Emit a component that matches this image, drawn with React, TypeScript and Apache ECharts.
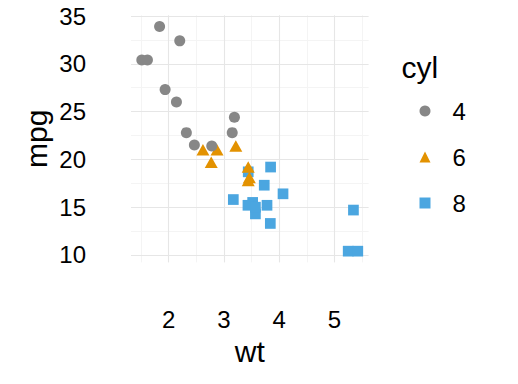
import React, { useEffect, useRef } from "react";
import * as echarts from "echarts";

// mtcars: weight (1000 lbs) and miles per gallon, grouped by number of cylinders
const wt4 = [2.32, 3.19, 3.15, 2.2, 1.615, 1.835, 2.465, 1.935, 2.14, 1.513, 2.78];
const mpg4 = [22.8, 24.4, 22.8, 32.4, 30.4, 33.9, 21.5, 27.3, 26.0, 30.4, 21.4];
const wt6 = [2.62, 2.875, 3.215, 3.46, 3.44, 3.44, 2.77];
const mpg6 = [21.0, 21.0, 21.4, 18.1, 19.2, 17.8, 19.7];
const wt8 = [3.44, 3.57, 4.07, 3.73, 3.78, 5.25, 5.424, 5.345, 3.52, 3.435, 3.84, 3.845, 3.17, 3.57];
const mpg8 = [18.7, 14.3, 16.4, 17.3, 15.2, 10.4, 10.4, 14.7, 15.5, 15.2, 13.3, 19.2, 15.8, 15.0];

const cylLevels = ["4", "6", "8"];
const xTicks = [2, 3, 4, 5];
const xMinor = [1.5, 2.5, 3.5, 4.5, 5.5];
const yTicks = [10, 15, 20, 25, 30, 35];
const yMinor = [12.5, 17.5, 22.5, 27.5, 32.5];

const FONT = "'Liberation Sans', Arial, Helvetica, sans-serif";
const COLORS = { "4": "#878787", "6": "#E39200", "8": "#4BA6E0" };

const allWt = [...wt4, ...wt6, ...wt8];
const allMpg = [...mpg4, ...mpg6, ...mpg8];
const expand = (arr: number[]) => {
  const lo = Math.min(...arr);
  const hi = Math.max(...arr);
  const pad = (hi - lo) * 0.05;
  return [lo - pad, hi + pad];
};
const [X_MIN, X_MAX] = expand(allWt);
const [Y_MIN, Y_MAX] = expand(allMpg);

const pairs = (xs: number[], ys: number[]) => xs.map((x, i) => [x, ys[i]]);

const MAJOR = { color: "#E6E6E6", width: 1.1, type: "solid" as const };
const MINOR = { color: "#F4F4F4", width: 1, type: "solid" as const };

export default function App() {
  const ref = useRef<HTMLDivElement>(null);
  useEffect(() => {
    if (!ref.current) return;
    const chart = echarts.init(ref.current, undefined, { renderer: "svg" });
    const gridLines = [
      ...xMinor.map((v) => ({ xAxis: v, lineStyle: MINOR })),
      ...yMinor.map((v) => ({ yAxis: v, lineStyle: MINOR })),
      ...xTicks.map((v) => ({ xAxis: v, lineStyle: MAJOR })),
      ...yTicks.map((v) => ({ yAxis: v, lineStyle: MAJOR })),
    ];
    chart.setOption({
      animation: false,
      backgroundColor: "#ffffff",
      textStyle: { fontFamily: FONT },
      grid: {
        left: 131,
        right: 149.4,
        top: 15.3,
        bottom: 121.6,
        containLabel: false,
        outerBoundsMode: "none",
      },
      title: {
        text: "cyl",
        left: 401.5,
        top: 52.6,
        padding: 0,
        textStyle: { fontSize: 30, fontWeight: "normal", color: "#000", fontFamily: FONT },
      },
      legend: {
        data: cylLevels,
        orient: "vertical",
        left: 419.5,
        top: 99,
        padding: 0,
        itemGap: 22,
        itemWidth: 11,
        itemHeight: 11,
        selectedMode: false,
        textStyle: { fontSize: 24, color: "#000", fontFamily: FONT, padding: [0, 0, 0, 17] },
      },
      xAxis: {
        type: "value",
        min: X_MIN,
        max: X_MAX,
        name: "wt",
        nameLocation: "middle",
        nameGap: 73,
        nameTextStyle: { fontSize: 30, color: "#000", fontFamily: FONT },
        axisLine: { show: false, onZero: false },
        axisTick: { show: false },
        splitLine: { show: false },
        axisLabel: { customValues: xTicks, margin: 45, fontSize: 24, color: "#000", fontFamily: FONT },
      },
      yAxis: {
        type: "value",
        min: Y_MIN,
        max: Y_MAX,
        name: "mpg",
        nameLocation: "middle",
        nameGap: 80,
        nameTextStyle: { fontSize: 30, color: "#000", fontFamily: FONT },
        axisLine: { show: false, onZero: false },
        axisTick: { show: false },
        splitLine: { show: false },
        axisLabel: { customValues: yTicks, margin: 45, fontSize: 24, color: "#000", fontFamily: FONT },
      },
      series: [
        {
          type: "scatter",
          data: [],
          silent: true,
          z: 0,
          markLine: {
            silent: true,
            z: 0,
            zlevel: 0,
            symbol: ["none", "none"],
            label: { show: false },
            emphasis: { disabled: true },
            animation: false,
            data: gridLines,
          },
        },
        {
          name: "8",
          type: "scatter",
          symbol: "rect",
          symbolSize: 10.7,
          z: 3,
          itemStyle: { color: COLORS["8"], opacity: 1 },
          data: pairs(wt8, mpg8),
        },
        {
          name: "6",
          type: "scatter",
          symbol: "triangle",
          symbolSize: [13, 11.5],
          z: 3,
          itemStyle: { color: COLORS["6"], opacity: 1 },
          data: pairs(wt6, mpg6),
        },
        {
          name: "4",
          type: "scatter",
          symbol: "circle",
          symbolSize: 11,
          z: 3,
          itemStyle: { color: COLORS["4"], opacity: 1 },
          data: pairs(wt4, mpg4),
        },
      ],
    });
    return () => chart.dispose();
  }, []);
  return <div ref={ref} style={{ width: 518, height: 384, position: "absolute", left: 0, top: 0 }} />;
}
